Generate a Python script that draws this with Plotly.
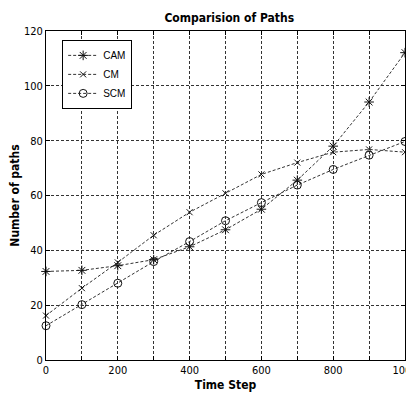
import plotly.graph_objects as go

time_steps = [0, 100, 200, 300, 400, 500, 600, 700, 800, 900, 1000]
cam = [32.3, 32.7, 34.4, 36.6, 41.3, 47.5, 55.0, 65.6, 78.0, 94.1, 112.1]
cm = [16.2, 26.2, 35.6, 45.5, 53.9, 60.8, 67.7, 72.0, 75.8, 76.8, 75.8]
scm = [12.5, 20.2, 28.0, 35.9, 43.2, 50.8, 57.4, 63.8, 69.5, 74.7, 79.7]
x_ticks = [0, 200, 400, 600, 800, 1000]
y_ticks = [0, 20, 40, 60, 80, 100, 120]

series = [
    ("CAM", cam, "asterisk-open", 8),
    ("CM", cm, "x-thin-open", 6),
    ("SCM", scm, "circle-open", 8),
]

fig = go.Figure()
for name, vals, sym, sz in series:
    fig.add_trace(go.Scatter(
        x=time_steps, y=vals, name=name, mode="lines+markers",
        line=dict(color="#333333", width=1, dash="3px,2px"),
        marker=dict(symbol=sym, size=sz, color="#111111",
                    line=dict(color="#111111", width=1)),
        cliponaxis=False,
    ))

font_fam = "Liberation Sans Narrow, Arial Narrow, DejaVu Sans Condensed, sans-serif"
grid = dict(gridcolor="#333333", gridwidth=1, griddash="3px,2px")

# page body has an 8px margin, so the figure is offset by 8px
W, H = 406, 386
fig.update_layout(
    width=W, height=H,
    margin=dict(l=38, r=9, t=23, b=34),
    paper_bgcolor="white", plot_bgcolor="white",
    font=dict(family=font_fam, size=11, color="black"),
    title=dict(text="<b>Comparision of Paths</b>", x=0.545, xanchor="center",
               y=1 - 10 / H, yanchor="middle", automargin=False,
               font=dict(family=font_fam, size=12, color="black")),
    showlegend=True,
    legend=dict(x=0.045, y=0.973, xanchor="left", yanchor="top",
                bgcolor="white", bordercolor="black", borderwidth=1,
                font=dict(family="Liberation Sans, Arial, sans-serif", size=10),
                tracegroupgap=0, itemwidth=30),
    xaxis=dict(range=[0, 1000], tickvals=x_ticks, showgrid=True, **grid,
               minor=dict(dtick=100, showgrid=True, ticks="inside", ticklen=4,
                          tickcolor="black", **grid),
               ticks="inside", ticklen=4, tickcolor="black",
               ticklabeloverflow="allow",
               showline=True, linecolor="black", linewidth=1, mirror="ticks",
               zeroline=False, automargin=False,
               title=dict(text="<b>Time Step</b>", standoff=4,
                          font=dict(family=font_fam, size=12))),
    yaxis=dict(range=[0, 120], tickvals=y_ticks, showgrid=True, **grid,
               ticks="inside", ticklen=4, tickcolor="black",
               ticklabeloverflow="allow",
               showline=True, linecolor="black", linewidth=1, mirror="ticks",
               zeroline=False, automargin=False,
               title=dict(text="<b>Number of paths</b>", standoff=6,
                          font=dict(family=font_fam, size=12))),
)

fig.write_html("out.html")
